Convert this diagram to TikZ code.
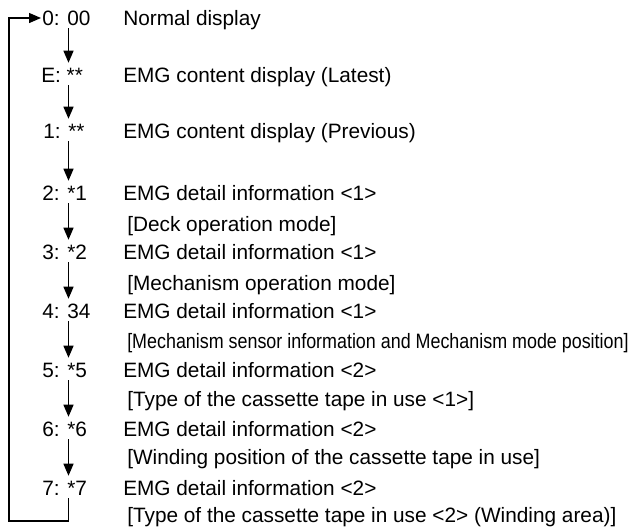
\documentclass[tikz,border=0pt]{standalone}
\usepackage{fontspec}
\setmainfont{Liberation Sans}
\usetikzlibrary{arrows.meta}
\begin{document}
\begin{tikzpicture}[x=0.75pt,y=-0.75pt,
  txt/.style={anchor=base west,inner sep=0pt,font=\fontsize{15.6pt}{18pt}\selectfont},
  code/.style={txt,text height=10.5pt,text depth=0pt},
  arr/.style={line width=1pt,-{Triangle[length=9pt,width=7.5pt]},shorten <=2.25pt,shorten >=3.75pt}]
\useasboundingbox (0,0) rectangle (634,529);
\coordinate (ax) at (68.5,0);
% codes
\node[code] (c0) at (42,25) {0: 00};
\node[code] (cE) at (41,82) {E: **};
\node[code] (c1) at (43,138) {1: **};
\node[code] (c2) at (42,200) {2: *1};
\node[code] (c3) at (42,259) {3: *2};
\node[code] (c4) at (42,318) {4: 34};
\node[code] (c5) at (42,377) {5: *5};
\node[code] (c6) at (42,436) {6: *6};
\node[code] (c7) at (42,495) {7: *7};
% descriptions
\node[txt] (d0) at (123,25) {Normal display};
\node[txt] (dE) at (123,82) {EMG content display (Latest)};
\node[txt] (d1) at (123,138) {EMG content display (Previous)};
\node[txt] (d2) at (123,200) {EMG detail information <1>};
\node[txt] (s2) at (127,231) {[Deck operation mode]};
\node[txt] (d3) at (123,259) {EMG detail information <1>};
\node[txt] (s3) at (127,290) {[Mechanism operation mode]};
\node[txt] (d4) at (123,318) {EMG detail information <1>};
\node[txt] (s4) at (127,348) {\resizebox{376pt}{\height}{[Mechanism sensor information and Mechanism mode position]}};
\node[txt] (d5) at (123,377) {EMG detail information <2>};
\node[txt] (s5) at (127,406) {[Type of the cassette tape in use <1>]};
\node[txt] (d6) at (123,436) {EMG detail information <2>};
\node[txt] (s6) at (127,464) {[Winding position of the cassette tape in use]};
\node[txt] (d7) at (123,495) {EMG detail information <2>};
\node[txt] (s7) at (127,522) {[Type of the cassette tape in use <2> (Winding area)]};
% arrows
\draw[arr] (c0.south -| ax) -- (cE.north -| ax);
\draw[arr] (cE.south -| ax) -- (c1.north -| ax);
\draw[arr] (c1.south -| ax) -- (c2.north -| ax);
\draw[arr] (c2.south -| ax) -- (c3.north -| ax);
\draw[arr] (c3.south -| ax) -- (c4.north -| ax);
\draw[arr] (c4.south -| ax) -- (c5.north -| ax);
\draw[arr] (c5.south -| ax) -- (c6.north -| ax);
\draw[arr] (c6.south -| ax) -- (c7.north -| ax);
\coordinate (lb) at (9,521);
\draw[arr,shorten >=0.75pt] (c7.south -| ax) |- (lb) |- (c0.west);
\end{tikzpicture}
\end{document}
